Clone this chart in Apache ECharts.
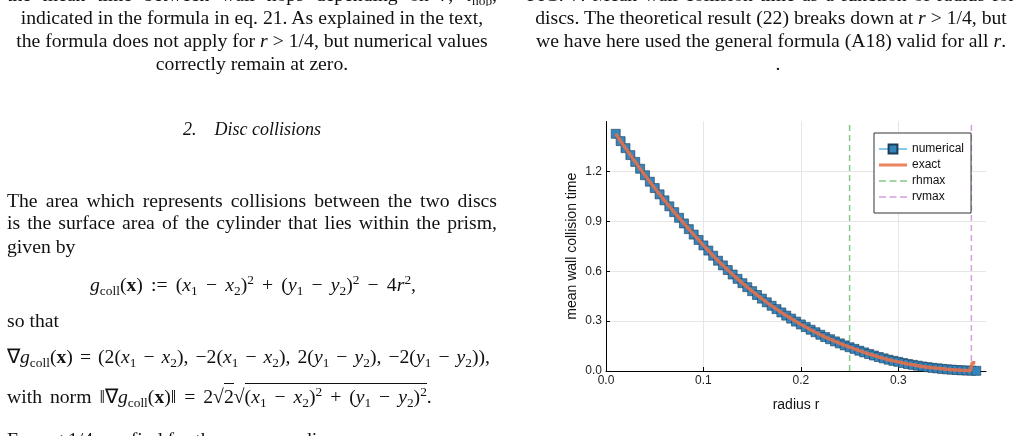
<!DOCTYPE html>
<html>
<head>
<meta charset="utf-8">
<title>Mean wall collision time</title>
<script src="https://cdn.jsdelivr.net/npm/echarts@6/dist/echarts.min.js"></script>
<style>
  html, body { margin: 0; padding: 0; background: #fff; }
  #page { position: relative; width: 1027px; height: 436px; overflow: hidden; background: #fff; }
  #main { position: absolute; left: 0; top: 0; width: 1027px; height: 436px; }
  .ln {
    position: absolute; height: 23px; line-height: 23px; white-space: nowrap;
    font-family: "Liberation Serif", "Times New Roman", serif; font-size: 19.7px; color: #111;
  }
  .l { left: 7px; width: 490px; }
  .r { left: 527px; width: 488px; }
  .c { text-align: center; }
  .j { text-align: justify; text-align-last: justify; white-space: normal; }
  .clip { overflow: hidden; }
  sub, sup { font-size: 68%; line-height: 0; }
  sub { vertical-align: -0.3em; }
  sup { vertical-align: 0.5em; }
  .rt { border-top: 1px solid #111; padding-top: 1px; }
</style>
</head>
<body>
<div id="page">
  <div id="main"></div>

  <div class="ln l j clip" style="top:-17px">the mean time between wall hops depending on <i>r</i>, <i>τ</i><sub>hop</sub>,</div>
  <div class="ln l c" style="top:6px">indicated in the formula in eq. 21. As explained in the text,</div>
  <div class="ln l c" style="top:29px">the formula does not apply for <i>r</i> &gt; 1/4, but numerical values</div>
  <div class="ln l c" style="top:52px">correctly remain at zero.</div>
  <div class="ln l c" style="top:118px;font-size:18px"><i>2.&nbsp;&nbsp;&nbsp;&nbsp;Disc collisions</i></div>
  <div class="ln l j" style="top:189px">The area which represents collisions between the two discs</div>
  <div class="ln l j" style="top:211px">is the surface area of the cylinder that lies within the prism,</div>
  <div class="ln l" style="top:235px">given by</div>
  <div class="ln j" style="top:273px;left:90px;width:326px"><i>g</i><sub>coll</sub>(<b>x</b>) := (<i>x</i><sub>1</sub> − <i>x</i><sub>2</sub>)<sup>2</sup> + (<i>y</i><sub>1</sub> − <i>y</i><sub>2</sub>)<sup>2</sup> − 4<i>r</i><sup>2</sup>,</div>
  <div class="ln l" style="top:309px">so that</div>
  <div class="ln j" style="top:345px;left:7px;width:483px">∇<i>g</i><sub>coll</sub>(<b>x</b>) = (2(<i>x</i><sub>1</sub> − <i>x</i><sub>2</sub>), −2(<i>x</i><sub>1</sub> − <i>x</i><sub>2</sub>), 2(<i>y</i><sub>1</sub> − <i>y</i><sub>2</sub>), −2(<i>y</i><sub>1</sub> − <i>y</i><sub>2</sub>)),</div>
  <div class="ln" style="top:385px;left:7px;word-spacing:3px">with norm ‖∇<i>g</i><sub>coll</sub>(<b>x</b>)‖ = 2√<span class="rt">2</span>√<span class="rt">(<i>x</i><sub>1</sub> − <i>x</i><sub>2</sub>)<sup>2</sup> + (<i>y</i><sub>1</sub> − <i>y</i><sub>2</sub>)<sup>2</sup></span>.</div>
  <div class="ln l" style="top:428px">For <i>r</i> &lt; 1/4, we find for the corresponding area</div>

  <div class="ln r j clip" style="top:-17px">FIG. 7. Mean wall collision time as a function of radius for two</div>
  <div class="ln r c" style="top:6px">discs. The theoretical result (22) breaks down at <i>r</i> &gt; 1/4, but</div>
  <div class="ln r c" style="top:29px">we have here used the general formula (A18) valid for all <i>r</i>.</div>
  <div class="ln r c" style="top:52px;left:534px">.</div>
</div>

<script>
// radius values of the numerical points
var rValues = [0.010, 0.015, 0.020, 0.025, 0.030, 0.035, 0.040, 0.045, 0.050, 0.055,
               0.060, 0.065, 0.070, 0.075, 0.080, 0.085, 0.090, 0.095, 0.100, 0.105,
               0.110, 0.115, 0.120, 0.125, 0.130, 0.135, 0.140, 0.145, 0.150, 0.155,
               0.160, 0.165, 0.170, 0.175, 0.180, 0.185, 0.190, 0.195, 0.200, 0.205,
               0.210, 0.215, 0.220, 0.225, 0.230, 0.235, 0.240, 0.245, 0.250, 0.255,
               0.260, 0.265, 0.270, 0.275, 0.280, 0.285, 0.290, 0.295, 0.300, 0.305,
               0.310, 0.315, 0.320, 0.325, 0.330, 0.335, 0.340, 0.345, 0.350, 0.355,
               0.360, 0.365, 0.370, 0.375, 0.380];

// mean wall collision time, numerical
var numericalTime = [1.426, 1.382, 1.340, 1.298, 1.257, 1.216, 1.177, 1.138, 1.100, 1.062,
                     1.026, 0.990, 0.955, 0.921, 0.887, 0.853, 0.820, 0.788, 0.755, 0.724,
                     0.693, 0.663, 0.635, 0.607, 0.580, 0.554, 0.528, 0.504, 0.480, 0.457,
                     0.435, 0.413, 0.392, 0.372, 0.352, 0.333, 0.315, 0.297, 0.280, 0.264,
                     0.248, 0.233, 0.218, 0.204, 0.191, 0.178, 0.166, 0.154, 0.143, 0.133,
                     0.122, 0.112, 0.102, 0.093, 0.084, 0.076, 0.068, 0.061, 0.055, 0.048,
                     0.042, 0.037, 0.032, 0.027, 0.023, 0.019, 0.016, 0.013, 0.010, 0.008,
                     0.006, 0.004, 0.003, 0.002, 0.001];

// exact curve: same points up to r = 0.37, then the jump near rvmax
var exactTailR = [0.374, 0.376, 0.379];
var exactTailTime = [0.002, 0.050, 0.050];

var rhmax = 0.25;
var rvmax = 0.375;

var xTicks = [0.0, 0.1, 0.2, 0.3];
var yTicks = [0.0, 0.3, 0.6, 0.9, 1.2];

var myChart = echarts.init(document.getElementById('main'));

var numData = rValues.map(function (r, i) { return [r, numericalTime[i]]; });
var exactData = [];
for (var i = 0; i < rValues.length; i++) {
    if (rValues[i] <= 0.3701) exactData.push([rValues[i], numericalTime[i]]);
}
exactTailR.forEach(function (r, i) { exactData.push([r, exactTailTime[i]]); });

var font = 'Liberation Sans';
// legend icons: tiny corner dots keep the 28x11 box so the strokes stay thin
var box = ' M0,0h0.01v0.01h-0.01z M27.99,10.99h0.01v0.01h-0.01z';
var solidIcon = 'path://M0,4h28v3h-28z' + box;
var dashIcon = 'path://M0,4.8h7v1.4h-7z M10.5,4.8h7v1.4h-7z M21,4.8h7v1.4h-7z' + box;

function isTick(v, list) {
    for (var k = 0; k < list.length; k++) {
        if (Math.abs(v - list[k]) < 1e-6) return true;
    }
    return false;
}

var option = {
    animation: false,
    backgroundColor: 'transparent',
    grid: { left: 606, top: 121.5, width: 380, height: 249.5 },
    legend: {
        data: [
            { name: 'numerical' },
            { name: 'exact', icon: solidIcon },
            { name: 'rhmax', icon: dashIcon },
            { name: 'rvmax', icon: dashIcon }
        ],
        orient: 'vertical',
        left: 874,
        top: 133,
        padding: [10, 7, 10, 4],
        itemGap: 4,
        itemWidth: 28,
        itemHeight: 11,
        symbolKeepAspect: false,
        backgroundColor: '#fff',
        borderColor: '#333',
        borderWidth: 1,
        textStyle: { fontFamily: font, fontSize: 12, color: '#111' }
    },
    xAxis: {
        type: 'value',
        min: 0,
        max: 0.39,
        interval: 0.1,
        name: 'radius r',
        nameLocation: 'middle',
        nameGap: 27,
        nameTextStyle: { fontFamily: font, fontSize: 14, color: '#111' },
        axisLine: { lineStyle: { color: '#000', width: 1 } },
        axisTick: { inside: true, length: 4, lineStyle: { color: '#000' } },
        axisLabel: {
            showMaxLabel: false,
            margin: 4,
            fontFamily: font, fontSize: 12, color: '#222',
            formatter: function (v) { return isTick(v, xTicks) ? v.toFixed(1) : ''; }
        },
        splitLine: { show: true, showMinLine: false, showMaxLine: false, lineStyle: { color: '#e6e6e6', width: 1 } }
    },
    yAxis: {
        type: 'value',
        min: 0,
        max: 1.5,
        interval: 0.3,
        name: 'mean wall collision time',
        nameLocation: 'middle',
        nameGap: 27,
        nameTextStyle: { fontFamily: font, fontSize: 14, color: '#111' },
        axisLine: { show: true, lineStyle: { color: '#000', width: 1 } },
        axisTick: { show: true, inside: true, length: 4, lineStyle: { color: '#000' } },
        axisLabel: {
            showMaxLabel: false,
            margin: 4,
            fontFamily: font, fontSize: 12, color: '#222',
            formatter: function (v) { return isTick(v, yTicks) ? v.toFixed(1) : ''; }
        },
        splitLine: { show: true, showMinLine: true, showMaxLine: false, lineStyle: { color: '#e6e6e6', width: 1 } }
    },
    series: [
        {
            name: 'numerical',
            type: 'line',
            data: numData,
            symbol: 'rect',
            symbolSize: 9,
            showAllSymbol: true,
            itemStyle: { color: '#3584bc', borderColor: '#1c3c56', borderWidth: 0.6 },
            lineStyle: { color: '#86c9ef', width: 1 },
            z: 2
        },
        {
            name: 'exact',
            type: 'line',
            data: exactData,
            symbol: 'none',
            lineStyle: { color: '#e0714d', width: 3.5, opacity: 0.92 },
            itemStyle: { color: '#ec8460' },
            z: 3
        },
        {
            name: 'rhmax',
            type: 'line',
            data: [[rhmax, 0], [rhmax, 1.5]],
            symbol: 'none',
            lineStyle: { color: '#86c78a', width: 1.5, type: [6, 4] },
            itemStyle: { color: '#86c78a' },
            z: 1
        },
        {
            name: 'rvmax',
            type: 'line',
            data: [[rvmax, 0], [rvmax, 1.5]],
            symbol: 'none',
            lineStyle: { color: '#d3a0e0', width: 1.5, type: [6, 4] },
            itemStyle: { color: '#d3a0e0' },
            z: 1
        }
    ]
};

myChart.setOption(option);
</script>
</body>
</html>
